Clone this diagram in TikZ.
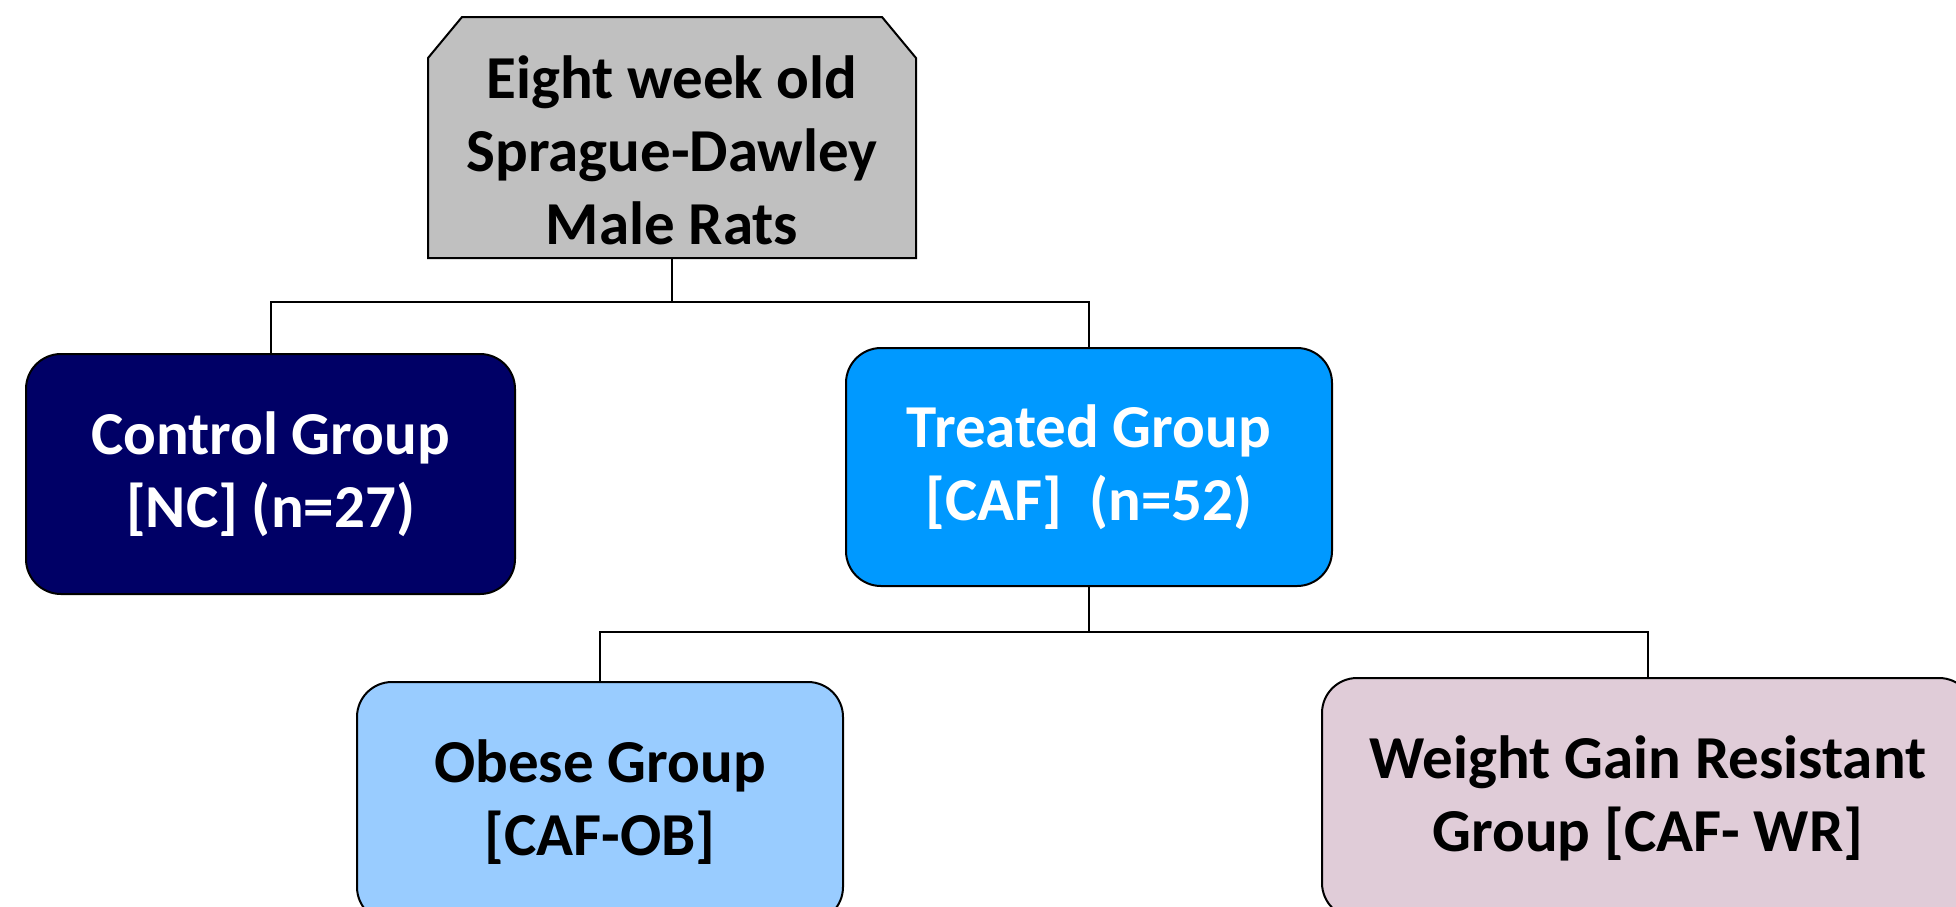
\documentclass[tikz,border=0pt]{standalone}
\usepackage{fontspec}
\setmainfont{Carlito}
\definecolor{navybox}{HTML}{000066}
\definecolor{treatblue}{HTML}{0099FF}
\definecolor{obeseblue}{HTML}{99CCFF}
\definecolor{wrpink}{HTML}{E0CCD8}
\definecolor{topgray}{HTML}{C0C0C0}
\begin{document}
\begin{tikzpicture}[x=1pt,y=1pt,
  boxtext/.style={font=\fontsize{61}{73}\selectfont\bfseries, align=center},
  groupbox/.style={boxtext, draw=black, line width=2pt, rounded corners=35pt,
    minimum width=489pt, minimum height=240pt, inner sep=0pt},
  conn/.style={draw=black, line width=2pt}]
\useasboundingbox (0,0) rectangle (1956,-906);
\clip (0,0) rectangle (1956,-906);
\fill[white] (0,0) rectangle (1956,-906);

\node[minimum width=488pt, minimum height=241pt, inner sep=0pt, outer sep=0pt]
  (top) at (672,-137.5) {};
\draw[line width=2pt, fill=topgray, line join=miter]
  (top.south west) -- ++(0,200) -- ++(34,41) -- ++(420,0) -- ++(34,-41) -- (top.south east) -- cycle;
\node[boxtext] (toptext) at (672,-150) {Eight week old\\Sprague-Dawley\\Male Rats};

\node[groupbox, fill=navybox, text=white] (ctrl) at (270.5,-474) {Control Group\\{}[NC] (n=27)};
\node[groupbox, fill=treatblue, text=white, minimum width=486pt, minimum height=238pt] (treat) at (1089,-467) {Treated Group\\{}[CAF]\ \ (n=52)};
\node[groupbox, fill=obeseblue, minimum width=486pt] (obese) at (600,-802) {Obese Group\\{}[CAF-OB]};
\node[groupbox, fill=wrpink, minimum width=652pt] (wr) at (1648,-798) {Weight Gain Resistant\\Group [CAF- WR]};

\coordinate (j1) at (672,-302);
\coordinate (j2) at (1089,-632);
\draw[conn] (top.south) -- (j1) -| (ctrl.north);
\draw[conn] (j1) -| (treat.north);
\draw[conn] (treat.south) -- (j2) -| (obese.north);
\draw[conn] (j2) -| (wr.north);
\end{tikzpicture}
\end{document}
